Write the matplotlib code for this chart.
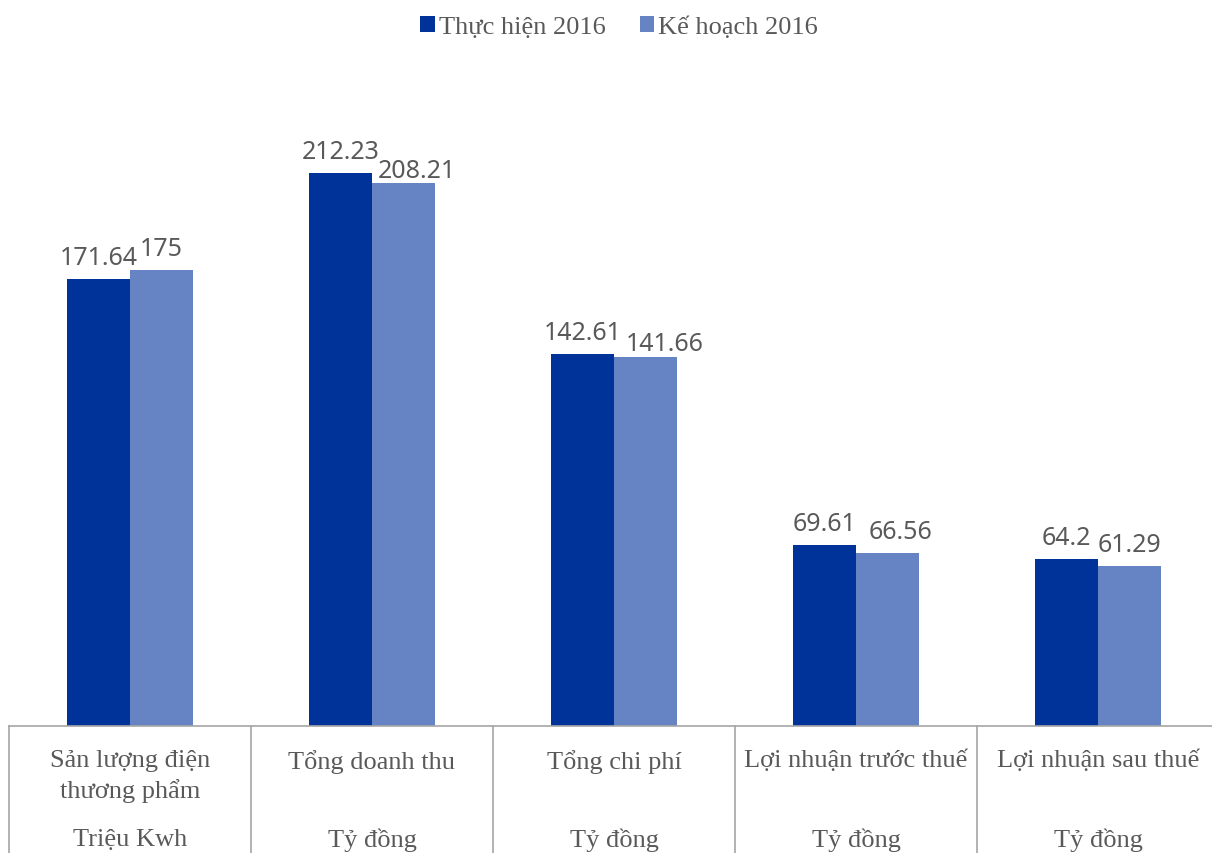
import numpy as np
import matplotlib.pyplot as plt
from matplotlib.transforms import blended_transform_factory

# du lieu
danh_muc = ['Sản lượng điện\nthương phẩm', 'Tổng doanh thu', 'Tổng chi phí',
            'Lợi nhuận trước thuế', 'Lợi nhuận sau thuế']
don_vi = ['Triệu Kwh', 'Tỷ đồng', 'Tỷ đồng', 'Tỷ đồng', 'Tỷ đồng']
thuc_hien = [171.64, 212.23, 142.61, 69.61, 64.2]
ke_hoach = [175, 208.21, 141.66, 66.56, 61.29]

mau_dam = '#003399'
mau_nhat = '#6684C3'
mau_chu = '#595959'
mau_ke = '#A6A6A6'

fig = plt.figure(figsize=(12.12, 8.54), dpi=100)
ax = fig.add_axes([9 / 1212, 127 / 854, 1210 / 1212, 651.5 / 854])

x = np.arange(len(danh_muc))
w = 0.26
b1 = ax.bar(x - w / 2, thuc_hien, w, color=mau_dam, label='Thực hiện 2016')
b2 = ax.bar(x + w / 2, ke_hoach, w, color=mau_nhat, label='Kế hoạch 2016')

# nhan gia tri (nhan ke hoach bi day sang phai cho khoi chong len nhau)
day_x = [0, 9.5, 14, 9.5, 0]
day_y = [0, -6, -6, 0, 0]
for i in range(len(danh_muc)):
    ax.annotate(f'{thuc_hien[i]:g}', xy=(x[i] - w / 2, thuc_hien[i]),
                xytext=(0, 6.5), textcoords='offset points', ha='center',
                va='bottom', fontsize=18, color=mau_chu, family='Noto Sans')
    ax.annotate(f'{ke_hoach[i]:g}', xy=(x[i] + w / 2, ke_hoach[i]),
                xytext=(day_x[i], 6.5 + day_y[i]), textcoords='offset points',
                ha='center', va='bottom', fontsize=18, color=mau_chu,
                family='Noto Sans')

ax.set_xlim(-0.5, len(danh_muc) - 0.5)
ax.set_ylim(0, 250)
ax.set_xticks([])
ax.set_yticks([])
for s in ['top', 'right', 'left']:
    ax.spines[s].set_visible(False)
ax.spines['bottom'].set_color(mau_ke)
ax.spines['bottom'].set_linewidth(1.2)

# ke doc phan cach nhom
tr = blended_transform_factory(ax.transData, ax.transAxes)
for xb in np.arange(-0.5, len(danh_muc) - 0.5):
    ax.plot([xb, xb], [0, -0.2], transform=tr, color=mau_ke, lw=1.2,
            clip_on=False)

for i in range(len(danh_muc)):
    ax.annotate(danh_muc[i], xy=(i, 0), xycoords=tr, xytext=(0, -16.5),
                textcoords='offset points', ha='center', va='top',
                fontsize=19, color=mau_chu, family='Liberation Serif',
                linespacing=1.38)
    ax.annotate(don_vi[i], xy=(i, 0), xycoords=tr, xytext=(0, -81.5),
                textcoords='offset points', ha='center', va='center',
                fontsize=19, color=mau_chu, family='Liberation Serif')

fig.legend(handles=[b1, b2], loc='upper center', bbox_to_anchor=(0.511, 1.008),
           ncol=2, frameon=False, handlelength=0.55, handleheight=0.55,
           handletextpad=0.15, columnspacing=1.3,
           prop={'family': 'Liberation Serif', 'size': 19}, labelcolor=mau_chu)

fig.savefig('out.png', dpi=100)
